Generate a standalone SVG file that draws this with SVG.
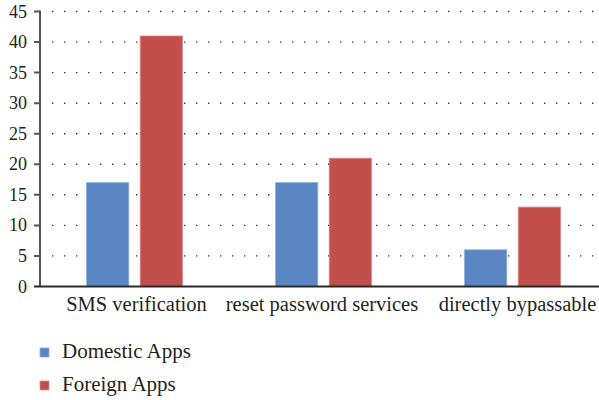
<svg xmlns="http://www.w3.org/2000/svg" width="599" height="400" viewBox="0 0 599 400">
  <style>
    .grid { stroke: #3a3a3a; stroke-width: 1.4; stroke-dasharray: 1.4 10.6; fill: none; }
    .axis { stroke: #555; stroke-width: 2; fill: none; }
    .xaxis { stroke: #2a2a2a; stroke-width: 2; fill: none; }
    .dom { fill: #5a87c3; stroke: #8fb0dc; stroke-width: 0.8; }
    .for { fill: #c34f4c; stroke: #db8a88; stroke-width: 0.8; }
  </style>

  <!-- dotted gridlines, one per 5 units -->
  <g id="grid">
    <line class="grid" x1="52" y1="11.5" x2="599" y2="11.5"/>
    <line class="grid" x1="52" y1="42.1" x2="599" y2="42.1"/>
    <line class="grid" x1="52" y1="72.6" x2="599" y2="72.6"/>
    <line class="grid" x1="52" y1="103.2" x2="599" y2="103.2"/>
    <line class="grid" x1="52" y1="133.7" x2="599" y2="133.7"/>
    <line class="grid" x1="52" y1="164.3" x2="599" y2="164.3"/>
    <line class="grid" x1="52" y1="194.8" x2="599" y2="194.8"/>
    <line class="grid" x1="52" y1="225.4" x2="599" y2="225.4"/>
    <line class="grid" x1="52" y1="255.9" x2="599" y2="255.9"/>
  </g>

  <!-- bars: value v maps to y = 286.5 - 6.111 * v -->
  <g id="sms-verification">
    <rect class="dom" x="86.5" y="182.6" width="42.3" height="103.9"/>
    <rect class="for" x="140.2" y="36" width="42.3" height="250.5"/>
  </g>
  <g id="reset-password-services">
    <rect class="dom" x="275.5" y="182.6" width="42.3" height="103.9"/>
    <rect class="for" x="329.2" y="158.2" width="42.3" height="128.3"/>
  </g>
  <g id="directly-bypassable">
    <rect class="dom" x="464.5" y="249.8" width="42.3" height="36.7"/>
    <rect class="for" x="518.2" y="207.1" width="42.3" height="79.4"/>
  </g>

  <!-- axes and ticks -->
  <g id="axes">
    <line class="axis" x1="40" y1="10.5" x2="40" y2="286.5"/>
    <line class="xaxis" x1="34" y1="286.5" x2="599" y2="286.5"/>
    <path class="axis" d="M34 11.5H40M34 42.1H40M34 72.6H40M34 103.2H40M34 133.7H40M34 164.3H40M34 194.8H40M34 225.4H40M34 255.9H40"/>
  </g>

  <g id="y-labels" fill="#231f20" text-anchor="end">
    <text x="27" y="17.5" font-family="Liberation Serif" font-size="18">45</text>
    <text x="27" y="48.1" font-family="Liberation Serif" font-size="18">40</text>
    <text x="27" y="78.6" font-family="Liberation Serif" font-size="18">35</text>
    <text x="27" y="109.2" font-family="Liberation Serif" font-size="18">30</text>
    <text x="27" y="139.7" font-family="Liberation Serif" font-size="18">25</text>
    <text x="27" y="170.3" font-family="Liberation Serif" font-size="18">20</text>
    <text x="27" y="200.8" font-family="Liberation Serif" font-size="18">15</text>
    <text x="27" y="231.4" font-family="Liberation Serif" font-size="18">10</text>
    <text x="27" y="261.9" font-family="Liberation Serif" font-size="18">5</text>
    <text x="27" y="292.5" font-family="Liberation Serif" font-size="18">0</text>
  </g>

  <g id="x-labels" fill="#231f20" text-anchor="middle">
    <text x="136.5" y="310.5" font-family="Liberation Serif" font-size="20.5">SMS verification</text>
    <text x="322" y="310.5" font-family="Liberation Serif" font-size="20.5">reset password services</text>
    <text x="517.5" y="310.5" font-family="Liberation Serif" font-size="20.5">directly bypassable</text>
  </g>

  <g id="legend" fill="#231f20">
    <rect class="dom" x="40" y="348" width="9" height="9" stroke="none"/>
    <text x="62" y="358" font-family="Liberation Serif" font-size="21">Domestic Apps</text>
    <rect class="for" x="40" y="381" width="9" height="9" stroke="none"/>
    <text x="62" y="391" font-family="Liberation Serif" font-size="21">Foreign Apps</text>
  </g>
</svg>
